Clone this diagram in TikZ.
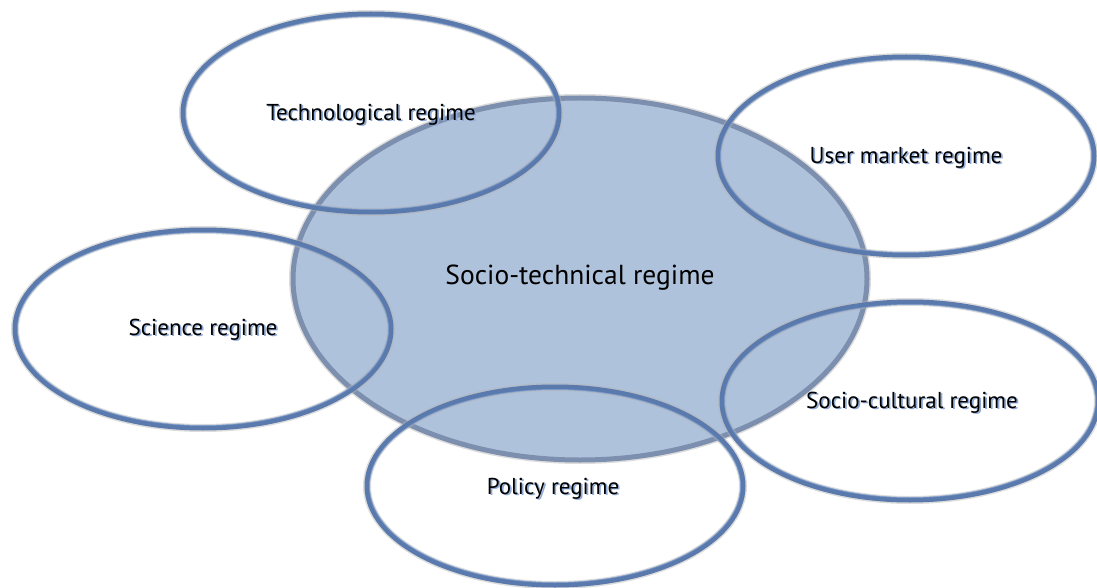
\documentclass[tikz,border=0pt]{standalone}
\usepackage{fontspec}
\setmainfont{PT Sans}
\definecolor{ringblue}{HTML}{5A79AC}
\definecolor{ringlight}{HTML}{7FA0D0}
\definecolor{coreFill}{HTML}{AFC2DB}
\definecolor{coreEdge}{HTML}{7D8FAE}
\definecolor{shadowblue}{HTML}{8FAAD8}
\tikzset{
  ring/.style={draw=ringblue, line width=5pt},
  ringglow/.style={draw=gray!60, line width=8pt, opacity=0.45},
  core/.style={fill=coreFill, draw=coreEdge, line width=5pt},
  lbl/.style={font=\fontsize{23}{27}\selectfont, text=black},
  lblshadow/.style={font=\fontsize{23}{27}\selectfont, text=shadowblue},
  biglbl/.style={font=\fontsize{27.5}{32}\selectfont, text=black}
}
\begin{document}
\begin{tikzpicture}[x=1pt,y=-1pt]
\useasboundingbox (0,0) rectangle (1097,588);
% central ellipse
\draw[ringglow] (580,279) ellipse [x radius=287, y radius=181];
\draw[core] (580,279) ellipse [x radius=287, y radius=181];
% outer ellipses
\foreach \cx/\cy in {371/113, 906/156, 203/329, 910/401, 555/486}{
  \draw[ringglow] (\cx,\cy) ellipse [x radius=188, y radius=99];
  \draw[ring] (\cx,\cy) ellipse [x radius=188, y radius=99];
  \draw[draw=ringlight, line width=1pt, opacity=0.7] (\cx,\cy) ellipse [x radius=185.5, y radius=96.5];
}
% labels
\node[lblshadow] (techS) at (372.7,116.2) {Technological regime};
\node[lbl] (tech) at (371,114.5) {Technological regime};
\node[lblshadow] (userS) at (907.7,159.2) {User market regime};
\node[lbl] (user) at (906,157.5) {User market regime};
\node[lblshadow] (sciS) at (204.7,331.2) {Science regime};
\node[lbl] (sci) at (203,329.5) {Science regime};
\node[lblshadow] (cultS) at (913.7,404.2) {Socio-cultural regime};
\node[lbl] (cult) at (912,402.5) {Socio-cultural regime};
\node[lblshadow] (polS) at (554.7,490.2) {Policy regime};
\node[lbl] (pol) at (553,488.5) {Policy regime};
\node[biglbl] (core) at (580,277.5) {Socio-technical regime};
\end{tikzpicture}
\end{document}
